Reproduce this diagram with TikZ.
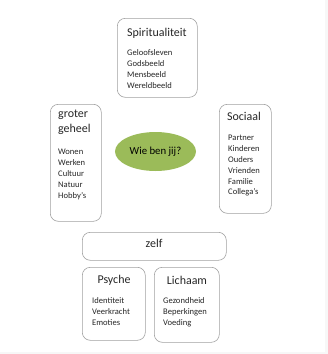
\documentclass[tikz,border=0pt]{standalone}
\usepackage{fontspec}
\setmainfont{Carlito}
\usetikzlibrary{shapes.geometric}
\definecolor{wieGreen}{HTML}{9BBB59}
\begin{document}
\begin{tikzpicture}[
  x=1bp, y=-1bp,
  every node/.style={inner sep=0pt, text=black!85},
  box/.style={draw=gray!75, line width=0.6pt, rounded corners=8pt, anchor=north west},
  title/.style={font=\fontsize{12}{15}\selectfont},
  items/.style={anchor=north west, align=left, font=\fontsize{8.6}{11}\selectfont}
]
  \useasboundingbox (0,0) rectangle (328,354);
  \fill[gray!6] (325,0) rectangle (328,354);
  \fill[gray!6] (0,352) rectangle (328,354);

  % the four areas round the middle
  \node[box, minimum width=80bp, minimum height=79bp] (spiribox) at (117,18) {};
  \node[title, anchor=west] (spiri) at (127,33) {Spiritualiteit};
  \node[items] (spiriitems) at (127,49.5) {Geloofsleven\\Godsbeeld\\Mensbeeld\\Wereldbeeld};

  \node[box, minimum width=51bp, minimum height=117bp] (geheelbox) at (50,104) {};
  \node[title, anchor=north west, align=left] (geheel) at (58,110) {groter\\geheel};
  \node[items] (geheelitems) at (58,148.5) {Wonen\\Werken\\Cultuur\\Natuur\\Hobby's};

  \node[box, minimum width=52bp, minimum height=109bp] (sociaalbox) at (219,104) {};
  \node[title] (sociaal) at (244,116) {Sociaal};
  \node[items] (sociaalitems) at (228,134.5) {Partner\\Kinderen\\Ouders\\Vrienden\\Familie\\Collega's};

  \node[ellipse, fill=wieGreen, minimum width=81bp, minimum height=39bp, text=black, font=\fontsize{10.8}{12}\selectfont] (wie) at (155.5,151.5) {Wie ben jij?};

  % zelf with its two parts
  \node[box, minimum width=144bp, minimum height=28bp] (zelfbox) at (82,232) {};
  \node[title] (zelf) at (154,243) {zelf};

  \node[box, minimum width=63bp, minimum height=73bp] (psychebox) at (82,267) {};
  \node[title] (psyche) at (114,280) {Psyche};
  \node[items] (psycheitems) at (92,297.5) {Identiteit\\Veerkracht\\Emoties};

  \node[box, minimum width=65bp, minimum height=75bp] (lichaambox) at (154,267) {};
  \node[title] (lichaam) at (187,280) {Lichaam};
  \node[items] (lichaamitems) at (163,297.5) {Gezondheid\\Beperkingen\\Voeding};
\end{tikzpicture}
\end{document}
